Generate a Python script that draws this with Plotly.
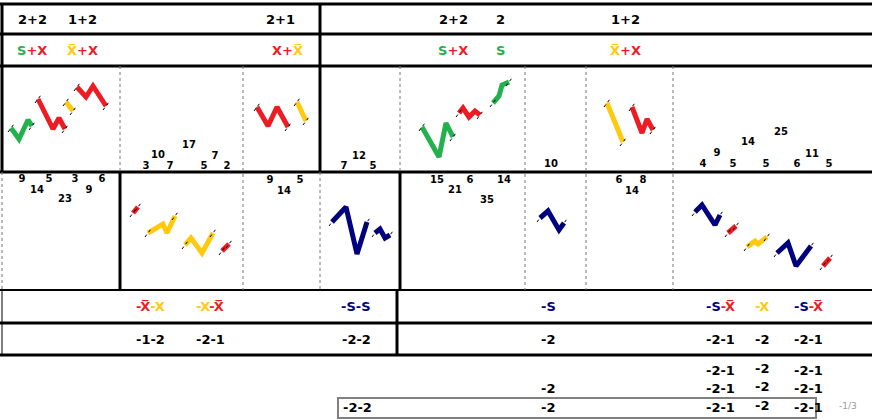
import plotly.graph_objects as go

G, R, Y, N = "#22B14C", "#ED1C24", "#FFC90E", "#000080"

# wave strokes: colour, x points, y points (page pixels)
waves = [
    (G, [11, 19, 28, 32], [128, 139, 120, 126]),
    (R, [38, 53, 59, 65], [99, 129, 118, 129]),
    (Y, [66, 73], [102, 111]),
    (R, [77, 86, 93, 106], [87, 97, 86, 106]),
    (R, [257, 268, 277, 288], [107, 126, 107, 127]),
    (Y, [297, 306], [102, 121]),
    (G, [422, 439, 446, 453], [127, 157, 123, 137]),
    (R, [459, 463, 469, 475, 480], [113, 108, 117, 111, 115]),
    (G, [493, 499, 502, 509], [103, 96, 85, 82]),
    (Y, [607, 623], [103, 142]),
    (R, [632, 642, 647, 653], [107, 133, 119, 130]),
    (R, [133, 138], [213, 207]),
    (Y, [148, 163, 167, 175], [233, 224, 233, 216]),
    (Y, [185, 191, 202, 213], [245, 238, 253, 233]),
    (R, [222, 229], [251, 244]),
    (N, [332, 346, 357, 367], [222, 207, 254, 222]),
    (N, [375, 380, 385, 390], [233, 229, 238, 235]),
    (N, [540, 548, 559, 564], [218, 211, 230, 223]),
    (N, [695, 702, 715, 720], [212, 205, 225, 215]),
    (R, [728, 736], [233, 226]),
    (Y, [747, 755, 758, 767], [247, 241, 244, 237]),
    (N, [777, 788, 796, 811], [253, 243, 266, 246]),
    (R, [823, 830], [266, 258]),
]

num_x = [146, 158, 170, 189, 204, 215, 227, 344, 359, 373,
         22, 37, 49, 65, 75, 89, 102, 270, 284, 300,
         551, 703, 717, 733, 748, 766, 781, 797, 812, 829,
         437, 455, 470, 487, 504, 619, 643, 632]
num_y = [166, 155, 166, 145, 166, 156, 166, 166, 156, 166,
         179, 190, 179, 199, 179, 190, 179, 180, 191, 180,
         164, 164, 153, 164, 142, 164, 132, 164, 154, 164,
         180, 190, 180, 200, 180, 180, 180, 191]
num_t = ["3", "10", "7", "17", "5", "7", "2", "7", "12", "5",
         "9", "14", "5", "23", "3", "9", "6", "9", "14", "5",
         "10", "4", "9", "5", "14", "5", "25", "6", "11", "5",
         "15", "21", "6", "35", "14", "6", "8", "14"]

def c(t, col):
    return f"<span style='color:{col}'>{t}</span>"

XB = "X\u0305"
labels = [
    (32, 19, "2+2"), (82, 19, "1+2"), (280, 19, "2+1"), (453, 19, "2+2"),
    (500, 19, "2"), (625, 19, "1+2"),
    (32, 50, c("S", G) + c("+X", R)), (82, 50, c(XB, Y) + c("+X", R)),
    (287, 50, c("X+", R) + c(XB, Y)), (453, 50, c("S", G) + c("+X", R)),
    (500, 50, c("S", G)), (625, 50, c(XB, Y) + c("+X", R)),
    (150, 306, c("-" + XB, R) + c("-X", Y)), (210, 306, c("-X", Y) + c("-" + XB, R)),
    (356, 306, c("-S-S", N)), (548, 306, c("-S", N)),
    (720, 306, c("-S", N) + c("-" + XB, R)), (762, 306, c("-X", Y)),
    (808, 306, c("-S", N) + c("-" + XB, R)),
    (150, 339, "-1-2"), (210, 339, "-2-1"), (356, 339, "-2-2"), (548, 339, "-2"),
    (720, 339, "-2-1"), (762, 339, "-2"), (808, 339, "-2-1"),
    (720, 370, "-2-1"), (762, 368, "-2"), (808, 370, "-2-1"),
    (548, 388, "-2"), (720, 388, "-2-1"), (762, 386, "-2"), (808, 388, "-2-1"),
    (357, 407, "-2-2"), (548, 407, "-2"), (720, 407, "-2-1"), (762, 405, "-2"), (808, 407, "-2-1"),
]

fig = go.Figure()
for col, xs, ys in waves:
    fig.add_trace(go.Scatter(x=xs, y=ys, mode="lines", line=dict(color=col, width=5),
                             hoverinfo="skip"))
    # little black end ticks
    for (xa, ya) in [(xs[0], ys[0]), (xs[-1], ys[-1])]:
        fig.add_trace(go.Scatter(x=[xa - 3, xa + 3], y=[ya + 4, ya - 4], mode="lines",
                                 line=dict(color="black", width=1, dash="dot"), hoverinfo="skip"))
fig.add_trace(go.Scatter(x=num_x, y=num_y, text=[f"<b>{t}</b>" for t in num_t], mode="text",
                         textfont=dict(family="DejaVu Sans", size=10, color="black")))

shapes = []
def ln(x0, y0, x1, y1, w=3, dash="solid", col="black"):
    shapes.append(dict(type="line", x0=x0, y0=y0, x1=x1, y1=y1,
                       line=dict(color=col, width=w, dash=dash)))

for yy in [4, 34, 66, 172, 323, 355]:
    ln(0, yy, 872, yy)
ln(0, 290, 872, 290, 2)
ln(2, 4, 2, 172)
ln(320, 4, 320, 172)
ln(2, 172, 2, 290, 1, "dot", "#777")
ln(120, 66, 120, 172, 1, "dot", "#777")
ln(120, 172, 120, 290)
ln(243, 66, 243, 290, 1, "dot", "#777")
ln(320, 172, 320, 290, 1, "dot", "#777")
ln(400, 66, 400, 172, 1, "dot", "#777")
ln(400, 172, 400, 290)
for xx in [525, 586, 673]:
    ln(xx, 66, xx, 290, 1, "dot", "#777")
ln(2, 290, 2, 355, 1)
ln(397, 290, 397, 355)
shapes.append(dict(type="rect", x0=338, y0=398, x1=816, y1=418,
                   line=dict(color="#808080", width=2)))

ann = [dict(x=x, y=y, text=f"<b>{t}</b>", showarrow=False,
            font=dict(family="DejaVu Sans", size=13, color="black")) for x, y, t in labels]
ann.append(dict(x=848, y=406, text="-1/3", showarrow=False,
                font=dict(family="DejaVu Sans", size=9, color="#999")))

fig.update_layout(width=872, height=420, margin=dict(l=0, r=0, t=0, b=0),
                  plot_bgcolor="white", paper_bgcolor="white", showlegend=False,
                  shapes=shapes, annotations=ann,
                  xaxis=dict(range=[0, 872], visible=False, fixedrange=True),
                  yaxis=dict(range=[420, 0], visible=False, fixedrange=True))
fig.write_html("out.html", config={"displayModeBar": False},
               post_script="document.body.style.margin='0';document.body.style.overflow='hidden';")
